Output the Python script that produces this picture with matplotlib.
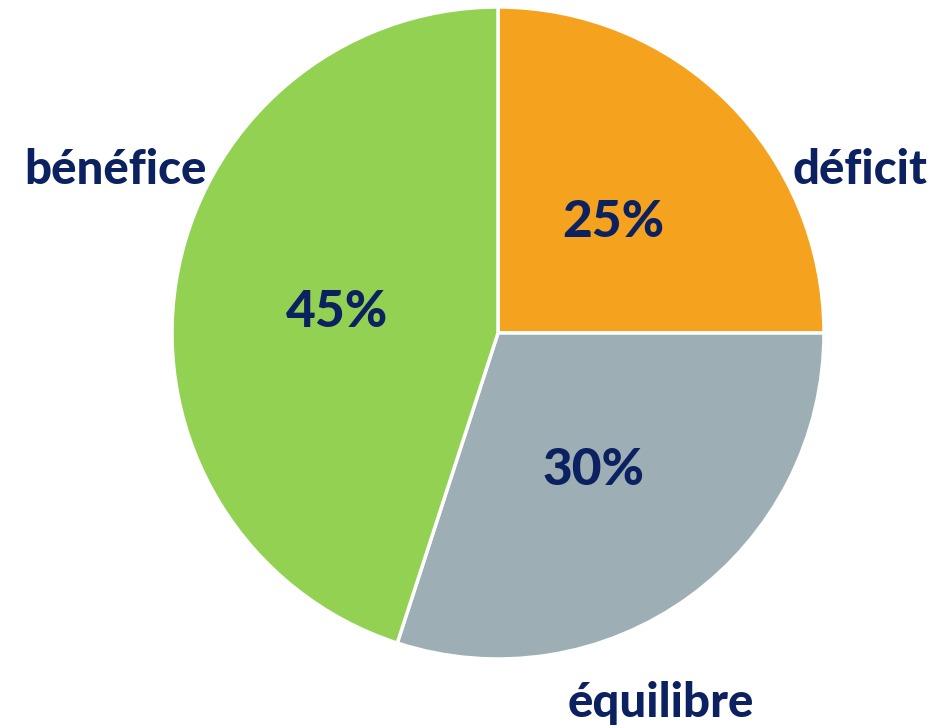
import matplotlib
matplotlib.use("Agg")
import matplotlib.pyplot as plt

# data
categories = ["déficit", "équilibre", "bénéfice"]
shares = [25, 30, 45]
colors = ["#F5A31F", "#9DAFB4", "#93D152"]
TEXT_COLOR = "#0B2160"

# label positions in data coords (radius = 1)
label_pos = [(1.11, 0.50), (0.50, -1.135), (-1.175, 0.50)]

fig = plt.figure(figsize=(9.48, 7.28), dpi=100)
cx, cy, r = 498, 333, 326
ax = fig.add_axes([(cx - r) / 948, (728 - cy - r) / 728, 2 * r / 948, 2 * r / 728])

wedges, _, autotexts = ax.pie(
    shares, colors=colors, startangle=90, counterclock=False,
    autopct="%d%%", pctdistance=0.5,
    wedgeprops=dict(edgecolor="white", linewidth=2.5),
)
for t in autotexts:
    t.set_color(TEXT_COLOR)
    t.set_fontsize(37)
    t.set_fontweight("black")
    t.set_family(["Lato", "DejaVu Sans"])
    x, y = t.get_position()
    t.set_position((x, y - 0.016))  # nudge down a bit, like the source

for name, (x, y) in zip(categories, label_pos):
    ax.text(x, y, name, ha="center", va="center", color=TEXT_COLOR,
            fontsize=34, fontweight="black", family=["Lato", "DejaVu Sans"])

ax.set_xlim(-1, 1)
ax.set_ylim(-1, 1)
ax.axis("off")

fig.savefig("out.png", dpi=100)
